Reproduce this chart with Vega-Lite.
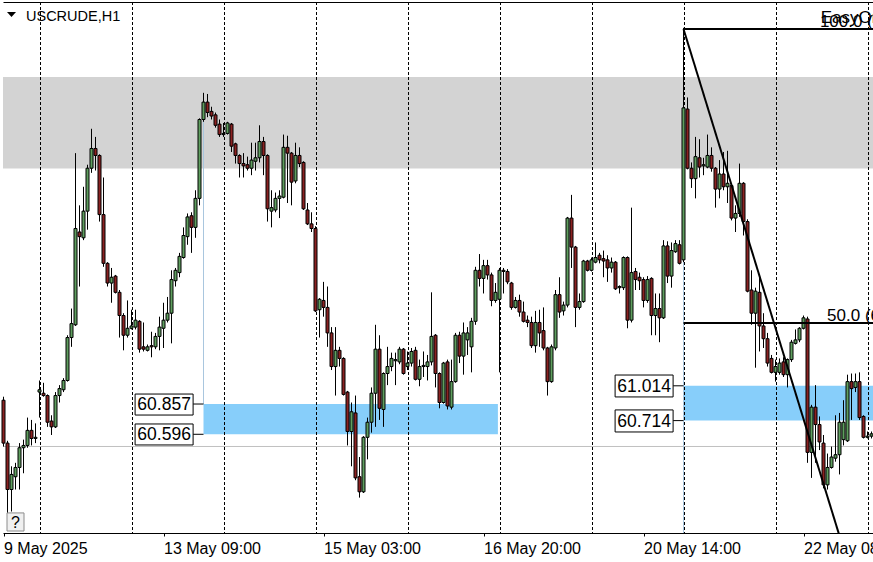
{
"$schema":"https://vega.github.io/schema/vega-lite/v6.json",
"width":870,"height":531,
"autosize":"none",
"padding":{"left":3,"top":2,"right":0,"bottom":29},
"background":"white",
"config":{"view":{"stroke":null},"axis":{"grid":false},"scale":{"continuousPadding":0}},
"datasets":{
"candles":[
{"i":0,"o":60.89,"h":60.92,"l":60.49,"c":60.52},
{"i":1,"o":60.52,"h":60.54,"l":59.90,"c":60.12},
{"i":2,"o":60.12,"h":60.32,"l":59.93,"c":60.25},
{"i":3,"o":60.23,"h":60.35,"l":60.12,"c":60.31},
{"i":4,"o":60.31,"h":60.52,"l":60.12,"c":60.48},
{"i":5,"o":60.48,"h":60.55,"l":60.26,"c":60.50},
{"i":6,"o":60.50,"h":60.74,"l":60.48,"c":60.63},
{"i":7,"o":60.63,"h":60.72,"l":60.50,"c":60.56},
{"i":8,"o":60.56,"h":60.69,"l":60.52,"c":60.57},
{"i":9,"o":60.96,"h":61.06,"l":60.74,"c":60.98},
{"i":10,"o":60.95,"h":61.04,"l":60.92,"c":60.93},
{"i":11,"o":60.93,"h":60.94,"l":60.66,"c":60.70},
{"i":12,"o":60.71,"h":60.76,"l":60.59,"c":60.66},
{"i":13,"o":60.66,"h":60.96,"l":60.65,"c":60.93},
{"i":14,"o":60.93,"h":61.02,"l":60.87,"c":60.99},
{"i":15,"o":60.98,"h":61.08,"l":60.96,"c":61.06},
{"i":16,"o":61.06,"h":61.45,"l":61.05,"c":61.43},
{"i":17,"o":61.43,"h":61.68,"l":61.35,"c":61.55},
{"i":18,"o":61.54,"h":63.02,"l":61.53,"c":62.37},
{"i":19,"o":62.34,"h":62.57,"l":61.87,"c":62.30},
{"i":20,"o":62.29,"h":62.73,"l":62.27,"c":62.52},
{"i":21,"o":62.52,"h":62.92,"l":62.36,"c":62.89},
{"i":22,"o":62.89,"h":63.23,"l":62.85,"c":63.06},
{"i":23,"o":63.06,"h":63.16,"l":62.87,"c":63.00},
{"i":24,"o":63.00,"h":63.01,"l":62.43,"c":62.49},
{"i":25,"o":62.49,"h":62.81,"l":62.04,"c":62.07},
{"i":26,"o":62.07,"h":62.08,"l":61.87,"c":61.90},
{"i":27,"o":61.90,"h":62.03,"l":61.73,"c":61.95},
{"i":28,"o":61.96,"h":61.97,"l":61.81,"c":61.82},
{"i":29,"o":61.82,"h":61.84,"l":61.43,"c":61.62},
{"i":30,"o":61.62,"h":61.64,"l":61.32,"c":61.45},
{"i":31,"o":61.45,"h":61.75,"l":61.43,"c":61.51},
{"i":32,"o":61.51,"h":61.67,"l":61.50,"c":61.53},
{"i":33,"o":61.52,"h":61.67,"l":61.50,"c":61.58},
{"i":34,"o":61.57,"h":61.58,"l":61.30,"c":61.33},
{"i":35,"o":61.35,"h":61.56,"l":61.31,"c":61.33},
{"i":36,"o":61.32,"h":61.37,"l":61.31,"c":61.35},
{"i":37,"o":61.36,"h":61.48,"l":61.26,"c":61.35},
{"i":38,"o":61.35,"h":61.47,"l":61.33,"c":61.44},
{"i":39,"o":61.44,"h":61.61,"l":61.32,"c":61.52},
{"i":40,"o":61.51,"h":61.73,"l":61.34,"c":61.58},
{"i":41,"o":61.58,"h":61.78,"l":61.56,"c":61.64},
{"i":42,"o":61.64,"h":62.01,"l":61.38,"c":61.93},
{"i":43,"o":61.92,"h":62.03,"l":61.87,"c":62.01},
{"i":44,"o":61.99,"h":62.16,"l":61.95,"c":62.13},
{"i":45,"o":62.12,"h":62.38,"l":62.11,"c":62.31},
{"i":46,"o":62.30,"h":62.50,"l":62.23,"c":62.47},
{"i":47,"o":62.48,"h":62.51,"l":62.16,"c":62.38},
{"i":48,"o":62.38,"h":62.70,"l":62.29,"c":62.63},
{"i":49,"o":62.63,"h":63.32,"l":62.57,"c":63.31},
{"i":50,"o":63.31,"h":63.54,"l":63.29,"c":63.46},
{"i":51,"o":63.46,"h":63.53,"l":63.33,"c":63.37},
{"i":52,"o":63.38,"h":63.42,"l":63.31,"c":63.34},
{"i":53,"o":63.35,"h":63.37,"l":63.24,"c":63.26},
{"i":54,"o":63.27,"h":63.31,"l":63.16,"c":63.18},
{"i":55,"o":63.18,"h":63.28,"l":63.16,"c":63.19},
{"i":56,"o":63.19,"h":63.29,"l":63.18,"c":63.28},
{"i":57,"o":63.27,"h":63.28,"l":63.03,"c":63.08},
{"i":58,"o":63.10,"h":63.11,"l":62.93,"c":63.00},
{"i":59,"o":63.00,"h":63.01,"l":62.81,"c":62.93},
{"i":60,"o":62.93,"h":63.02,"l":62.81,"c":62.91},
{"i":61,"o":62.92,"h":62.99,"l":62.87,"c":62.89},
{"i":62,"o":62.89,"h":63.11,"l":62.83,"c":62.96},
{"i":63,"o":62.95,"h":63.11,"l":62.87,"c":62.98},
{"i":64,"o":62.98,"h":63.26,"l":62.94,"c":63.12},
{"i":65,"o":63.12,"h":63.16,"l":62.83,"c":63.00},
{"i":66,"o":63.00,"h":63.01,"l":62.43,"c":62.54},
{"i":67,"o":62.52,"h":62.70,"l":62.38,"c":62.55},
{"i":68,"o":62.53,"h":62.68,"l":62.51,"c":62.63},
{"i":69,"o":62.63,"h":62.70,"l":62.46,"c":62.65},
{"i":70,"o":62.64,"h":63.18,"l":62.63,"c":63.07},
{"i":71,"o":63.07,"h":63.17,"l":62.59,"c":63.02},
{"i":72,"o":63.02,"h":63.03,"l":62.57,"c":62.77},
{"i":73,"o":62.78,"h":63.11,"l":62.76,"c":63.00},
{"i":74,"o":63.00,"h":63.07,"l":62.90,"c":62.93},
{"i":75,"o":62.94,"h":62.95,"l":62.53,"c":62.54},
{"i":76,"o":62.53,"h":62.59,"l":62.40,"c":62.41},
{"i":77,"o":62.41,"h":62.51,"l":62.34,"c":62.37},
{"i":78,"o":62.37,"h":62.39,"l":61.65,"c":61.66},
{"i":79,"o":61.67,"h":61.77,"l":61.43,"c":61.76},
{"i":80,"o":61.75,"h":61.91,"l":61.61,"c":61.69},
{"i":81,"o":61.69,"h":61.87,"l":61.35,"c":61.47},
{"i":82,"o":61.47,"h":61.52,"l":61.15,"c":61.18},
{"i":83,"o":61.18,"h":61.52,"l":60.93,"c":61.32},
{"i":84,"o":61.32,"h":61.35,"l":61.18,"c":61.25},
{"i":85,"o":61.25,"h":61.26,"l":60.93,"c":60.94},
{"i":86,"o":60.96,"h":60.97,"l":60.50,"c":60.62},
{"i":87,"o":60.62,"h":60.87,"l":60.32,"c":60.79},
{"i":88,"o":60.78,"h":60.93,"l":60.20,"c":60.22},
{"i":89,"o":60.23,"h":60.40,"l":60.05,"c":60.10},
{"i":90,"o":60.10,"h":60.58,"l":60.09,"c":60.57},
{"i":91,"o":60.57,"h":60.74,"l":60.38,"c":60.70},
{"i":92,"o":60.70,"h":61.00,"l":60.61,"c":60.95},
{"i":93,"o":60.95,"h":61.54,"l":60.66,"c":61.33},
{"i":94,"o":61.33,"h":61.45,"l":60.72,"c":60.82},
{"i":95,"o":60.81,"h":61.13,"l":60.66,"c":61.12},
{"i":96,"o":61.12,"h":61.35,"l":61.02,"c":61.18},
{"i":97,"o":61.18,"h":61.30,"l":61.14,"c":61.25},
{"i":98,"o":61.23,"h":61.30,"l":61.02,"c":61.24},
{"i":99,"o":61.22,"h":61.35,"l":61.20,"c":61.33},
{"i":100,"o":61.33,"h":61.34,"l":61.11,"c":61.12},
{"i":101,"o":61.18,"h":61.31,"l":61.15,"c":61.21},
{"i":102,"o":61.21,"h":61.34,"l":61.18,"c":61.31},
{"i":103,"o":61.32,"h":61.35,"l":61.06,"c":61.07},
{"i":104,"o":61.07,"h":61.24,"l":61.01,"c":61.18},
{"i":105,"o":61.18,"h":61.31,"l":61.09,"c":61.19},
{"i":106,"o":61.18,"h":61.28,"l":61.06,"c":61.22},
{"i":107,"o":61.22,"h":61.82,"l":61.19,"c":61.44},
{"i":108,"o":61.45,"h":61.46,"l":61.00,"c":61.12},
{"i":109,"o":61.12,"h":61.13,"l":60.82,"c":60.87},
{"i":110,"o":60.87,"h":61.22,"l":60.86,"c":61.21},
{"i":111,"o":61.22,"h":61.24,"l":60.81,"c":60.84},
{"i":112,"o":60.83,"h":61.24,"l":60.81,"c":61.05},
{"i":113,"o":61.05,"h":61.47,"l":61.04,"c":61.45},
{"i":114,"o":61.45,"h":61.48,"l":61.21,"c":61.27},
{"i":115,"o":61.27,"h":61.56,"l":61.11,"c":61.47},
{"i":116,"o":61.41,"h":61.52,"l":61.28,"c":61.47},
{"i":117,"o":61.35,"h":61.60,"l":61.13,"c":61.57},
{"i":118,"o":61.57,"h":62.04,"l":61.54,"c":62.01},
{"i":119,"o":62.01,"h":62.15,"l":61.87,"c":61.94},
{"i":120,"o":61.94,"h":62.10,"l":61.81,"c":62.05},
{"i":121,"o":62.05,"h":62.10,"l":61.93,"c":61.97},
{"i":122,"o":61.97,"h":61.99,"l":61.70,"c":61.75},
{"i":123,"o":61.75,"h":61.90,"l":61.73,"c":61.82},
{"i":124,"o":61.76,"h":62.03,"l":61.13,"c":62.01},
{"i":125,"o":62.01,"h":62.03,"l":61.81,"c":62.00},
{"i":126,"o":62.00,"h":62.02,"l":61.89,"c":61.91},
{"i":127,"o":61.90,"h":61.91,"l":61.67,"c":61.69},
{"i":128,"o":61.69,"h":61.78,"l":61.68,"c":61.75},
{"i":129,"o":61.75,"h":61.80,"l":61.61,"c":61.65},
{"i":130,"o":61.65,"h":61.74,"l":61.56,"c":61.57},
{"i":131,"o":61.58,"h":61.62,"l":61.52,"c":61.56},
{"i":132,"o":61.56,"h":61.61,"l":61.34,"c":61.36},
{"i":133,"o":61.36,"h":61.66,"l":61.30,"c":61.56},
{"i":134,"o":61.56,"h":61.67,"l":61.35,"c":61.47},
{"i":135,"o":61.49,"h":61.69,"l":61.32,"c":61.34},
{"i":136,"o":61.34,"h":61.35,"l":60.93,"c":61.05},
{"i":137,"o":61.05,"h":61.37,"l":61.04,"c":61.35},
{"i":138,"o":61.34,"h":61.84,"l":61.32,"c":61.80},
{"i":139,"o":61.80,"h":61.95,"l":61.60,"c":61.65},
{"i":140,"o":61.66,"h":61.74,"l":61.62,"c":61.71},
{"i":141,"o":61.71,"h":62.47,"l":61.69,"c":62.46},
{"i":142,"o":62.46,"h":62.66,"l":62.03,"c":62.21},
{"i":143,"o":62.21,"h":62.22,"l":61.52,"c":61.69},
{"i":144,"o":61.69,"h":61.81,"l":61.67,"c":61.74},
{"i":145,"o":61.74,"h":62.10,"l":61.73,"c":62.09},
{"i":146,"o":62.09,"h":62.10,"l":62.00,"c":62.01},
{"i":147,"o":62.01,"h":62.12,"l":62.00,"c":62.10},
{"i":148,"o":62.08,"h":62.25,"l":62.07,"c":62.12},
{"i":149,"o":62.14,"h":62.16,"l":62.07,"c":62.10},
{"i":150,"o":62.11,"h":62.18,"l":61.95,"c":62.09},
{"i":151,"o":62.10,"h":62.14,"l":61.91,"c":62.03},
{"i":152,"o":62.03,"h":62.12,"l":61.99,"c":62.08},
{"i":153,"o":62.08,"h":62.09,"l":61.84,"c":61.85},
{"i":154,"o":61.86,"h":61.88,"l":61.81,"c":61.87},
{"i":155,"o":61.86,"h":62.13,"l":61.84,"c":62.12},
{"i":156,"o":62.12,"h":62.13,"l":61.51,"c":61.58},
{"i":157,"o":61.58,"h":62.55,"l":61.56,"c":61.99},
{"i":158,"o":62.00,"h":62.03,"l":61.84,"c":61.93},
{"i":159,"o":61.95,"h":61.99,"l":61.84,"c":61.92},
{"i":160,"o":61.93,"h":61.95,"l":61.69,"c":61.75},
{"i":161,"o":61.75,"h":61.96,"l":61.73,"c":61.93},
{"i":162,"o":61.94,"h":61.95,"l":61.45,"c":61.62},
{"i":163,"o":61.62,"h":61.81,"l":61.45,"c":61.68},
{"i":164,"o":61.68,"h":61.81,"l":61.39,"c":61.60},
{"i":165,"o":61.60,"h":62.27,"l":61.59,"c":62.22},
{"i":166,"o":62.22,"h":62.26,"l":61.90,"c":61.96},
{"i":167,"o":61.96,"h":62.25,"l":61.86,"c":62.18},
{"i":168,"o":62.17,"h":62.27,"l":62.16,"c":62.24},
{"i":169,"o":62.23,"h":62.27,"l":62.06,"c":62.07},
{"i":170,"o":62.10,"h":64.10,"l":62.08,"c":63.41},
{"i":171,"o":63.40,"h":63.50,"l":62.88,"c":62.89},
{"i":172,"o":62.89,"h":62.94,"l":62.72,"c":62.80},
{"i":173,"o":62.80,"h":63.16,"l":62.63,"c":62.99},
{"i":174,"o":62.98,"h":63.14,"l":62.81,"c":62.90},
{"i":175,"o":62.91,"h":62.98,"l":62.83,"c":62.92},
{"i":176,"o":62.90,"h":63.18,"l":62.89,"c":63.00},
{"i":177,"o":63.00,"h":63.07,"l":62.86,"c":62.89},
{"i":178,"o":62.89,"h":62.90,"l":62.55,"c":62.71},
{"i":179,"o":62.71,"h":62.96,"l":62.63,"c":62.84},
{"i":180,"o":62.84,"h":63.03,"l":62.70,"c":62.73},
{"i":181,"o":62.73,"h":63.04,"l":62.59,"c":62.76},
{"i":182,"o":62.74,"h":62.76,"l":62.44,"c":62.46},
{"i":183,"o":62.46,"h":62.57,"l":62.34,"c":62.50},
{"i":184,"o":62.50,"h":62.93,"l":62.47,"c":62.76},
{"i":185,"o":62.76,"h":62.77,"l":62.31,"c":62.43},
{"i":186,"o":62.43,"h":62.45,"l":61.82,"c":61.83},
{"i":187,"o":61.84,"h":62.01,"l":61.54,"c":61.64},
{"i":188,"o":61.64,"h":61.86,"l":61.17,"c":61.83},
{"i":189,"o":61.82,"h":61.95,"l":61.31,"c":61.53},
{"i":190,"o":61.53,"h":61.64,"l":61.34,"c":61.42},
{"i":191,"o":61.42,"h":61.47,"l":61.18,"c":61.21},
{"i":192,"o":61.25,"h":61.28,"l":61.12,"c":61.13},
{"i":193,"o":61.13,"h":61.24,"l":61.05,"c":61.18},
{"i":194,"o":61.13,"h":61.25,"l":61.11,"c":61.21},
{"i":195,"o":61.22,"h":61.26,"l":61.09,"c":61.11},
{"i":196,"o":61.11,"h":61.25,"l":61.00,"c":61.24},
{"i":197,"o":61.24,"h":61.41,"l":61.22,"c":61.39},
{"i":198,"o":61.38,"h":61.50,"l":61.37,"c":61.41},
{"i":199,"o":61.41,"h":61.52,"l":61.39,"c":61.51},
{"i":200,"o":61.51,"h":61.62,"l":61.50,"c":61.60},
{"i":201,"o":61.59,"h":61.61,"l":60.35,"c":60.44},
{"i":202,"o":60.44,"h":60.85,"l":60.22,"c":60.83},
{"i":203,"o":60.83,"h":61.02,"l":60.35,"c":60.68},
{"i":204,"o":60.68,"h":60.75,"l":60.46,"c":60.53},
{"i":205,"o":60.52,"h":60.59,"l":60.13,"c":60.16},
{"i":206,"o":60.16,"h":60.43,"l":60.12,"c":60.31},
{"i":207,"o":60.31,"h":60.49,"l":60.30,"c":60.40},
{"i":208,"o":60.39,"h":60.76,"l":60.36,"c":60.42},
{"i":209,"o":60.42,"h":60.78,"l":60.25,"c":60.70},
{"i":210,"o":60.55,"h":60.89,"l":60.50,"c":60.70},
{"i":211,"o":60.54,"h":61.11,"l":60.53,"c":61.05},
{"i":212,"o":61.05,"h":61.12,"l":60.72,"c":60.99},
{"i":213,"o":61.00,"h":61.12,"l":60.96,"c":61.05},
{"i":214,"o":61.05,"h":61.13,"l":60.72,"c":60.74},
{"i":215,"o":60.75,"h":60.76,"l":60.56,"c":60.57},
{"i":216,"o":60.57,"h":60.62,"l":60.56,"c":60.58},
{"i":217,"o":60.58,"h":60.62,"l":60.56,"c":60.60}
],
"band":[{"y1":63.676,"y2":62.887}],
"zones":[{"x1":50,"x2":123.6,"y1":60.857,"y2":60.596},{"x1":170,"x2":217.375,"y1":61.014,"y2":60.714}],
"bid":[{"p":60.491}],
"seps":[{"i":9.25},{"i":32.25},{"i":55.25},{"i":78.25},{"i":101.25},{"i":124.25},{"i":147.25},{"i":170.25},{"i":193.25},{"i":216.25}],
"vlines":[{"i":50,"y1":63.305,"y2":60.857},{"i":170,"y1":62.10,"y2":59.745}],
"fib":[{"x1":170,"x2":217.375,"p":64.09},{"x1":170,"x2":217.375,"p":61.555}],
"trend":[{"i":170,"p":64.09},{"i":215.25,"p":59.02}],
"boxes":[
{"x1":32.9,"x2":47.4,"y1":60.943,"y2":60.762,"tx":40.15,"p":60.857,"label":"60.857","cx":50},
{"x1":32.9,"x2":47.4,"y1":60.685,"y2":60.504,"tx":40.15,"p":60.596,"label":"60.596","cx":50},
{"x1":152.9,"x2":167.4,"y1":61.107,"y2":60.918,"tx":160.15,"p":61.014,"label":"61.014","cx":170},
{"x1":152.9,"x2":167.4,"y1":60.806,"y2":60.616,"tx":160.15,"p":60.714,"label":"60.714","cx":170}
],
"notes":[
{"i":204.3,"p":64.142,"label":"EasyOrder"},
{"i":204.1,"p":64.107,"label":"100.0 (64.090)"},
{"i":205.9,"p":61.573,"label":"50.0 (61.555)"}
]
},
"layer":[
{"data":{"name":"band"},"mark":{"type":"rect","color":"#d3d3d3"},
 "encoding":{"y":{"field":"y1","type":"quantitative","scale":{"domain":[59.745,64.323],"nice":false,"zero":false},"axis":{"orient":"left","domain":true,"domainColor":"black","ticks":false,"labels":false,"title":null,"grid":false}},"y2":{"field":"y2"}}},
{"data":{"name":"zones"},"mark":{"type":"rect","color":"#87cefa"},
 "encoding":{"x":{"field":"x1","type":"quantitative","scale":{"domain":[-0.125,217.375],"nice":false,"zero":false,"padding":0},"axis":null},"x2":{"field":"x2"},
 "y":{"field":"y1","type":"quantitative","scale":{"domain":[59.745,64.323],"nice":false,"zero":false},"axis":null},"y2":{"field":"y2"}}},
{"data":{"name":"bid"},"mark":{"type":"rule","color":"#c0c0c0","strokeWidth":1},
 "encoding":{"y":{"field":"p","type":"quantitative","scale":{"domain":[59.745,64.323],"nice":false,"zero":false},"axis":null}}},
{"data":{"name":"seps"},"mark":{"type":"rule","color":"black","strokeWidth":1,"strokeDash":[3,2]},
 "encoding":{"x":{"field":"i","type":"quantitative","scale":{"domain":[-0.125,217.375],"nice":false,"zero":false,"padding":0},"axis":{"orient":"top","domain":true,"domainColor":"black","ticks":false,"labels":false,"title":null,"grid":false}}}},
{"data":{"name":"vlines"},"mark":{"type":"rule","color":"#a9c6de","strokeWidth":1},
 "encoding":{"x":{"field":"i","type":"quantitative","scale":{"domain":[-0.125,217.375],"nice":false,"zero":false,"padding":0},"axis":null},
 "y":{"field":"y1","type":"quantitative","scale":{"domain":[59.745,64.323],"nice":false,"zero":false},"axis":null},"y2":{"field":"y2"}}},
{"data":{"name":"candles"},"mark":{"type":"rule","color":"black","strokeWidth":1},
 "encoding":{"x":{"field":"i","type":"quantitative","scale":{"domain":[-0.125,217.375],"nice":false,"zero":false,"padding":0},
   "axis":{"orient":"bottom","values":[0,40,80,120,160,200],"labelExpr":"datum.value==0?'9 May 2025':datum.value==40?'13 May 09:00':datum.value==80?'15 May 03:00':datum.value==120?'16 May 20:00':datum.value==160?'20 May 14:00':'22 May 08:00'","domain":true,"domainColor":"black","ticks":true,"tickSize":3,"tickColor":"black","labelAlign":"left","labelBaseline":"alphabetic","labelPadding":17,"labelFont":"Liberation Sans","labelFontSize":16,"labelColor":"black","labelOverlap":false,"labelBound":false,"labelFlush":false,"title":null,"grid":false}},
 "y":{"field":"l","type":"quantitative","scale":{"domain":[59.745,64.323],"nice":false,"zero":false},"axis":null},"y2":{"field":"h"}}},
{"data":{"name":"candles"},"mark":{"type":"bar","size":3,"stroke":"black","strokeWidth":1},
 "encoding":{"x":{"field":"i","type":"quantitative","scale":{"domain":[-0.125,217.375],"nice":false,"zero":false,"padding":0},"axis":null},
 "y":{"field":"o","type":"quantitative","scale":{"domain":[59.745,64.323],"nice":false,"zero":false},"axis":null},"y2":{"field":"c"},
 "fill":{"condition":{"test":"datum.c >= datum.o","value":"#5f9e5f"},"value":"#8b2222"}}},
{"data":{"name":"fib"},"mark":{"type":"rule","color":"black","strokeWidth":2},
 "encoding":{"x":{"field":"x1","type":"quantitative","scale":{"domain":[-0.125,217.375],"nice":false,"zero":false,"padding":0},"axis":null},"x2":{"field":"x2"},
 "y":{"field":"p","type":"quantitative","scale":{"domain":[59.745,64.323],"nice":false,"zero":false},"axis":null}}},
{"data":{"name":"trend"},"mark":{"type":"line","color":"black","strokeWidth":2,"clip":true},
 "encoding":{"x":{"field":"i","type":"quantitative","scale":{"domain":[-0.125,217.375],"nice":false,"zero":false,"padding":0},"axis":null},
 "y":{"field":"p","type":"quantitative","scale":{"domain":[59.745,64.323],"nice":false,"zero":false},"axis":null}}},
{"data":{"name":"boxes"},"mark":{"type":"rule","color":"black","strokeWidth":1},
 "encoding":{"x":{"field":"x2","type":"quantitative","scale":{"domain":[-0.125,217.375],"nice":false,"zero":false,"padding":0},"axis":null},"x2":{"field":"cx"},
 "y":{"field":"p","type":"quantitative","scale":{"domain":[59.745,64.323],"nice":false,"zero":false},"axis":null}}},
{"data":{"name":"boxes"},"mark":{"type":"rect","fill":"white","stroke":"black","strokeWidth":1},
 "encoding":{"x":{"field":"x1","type":"quantitative","scale":{"domain":[-0.125,217.375],"nice":false,"zero":false,"padding":0},"axis":null},"x2":{"field":"x2"},
 "y":{"field":"y1","type":"quantitative","scale":{"domain":[59.745,64.323],"nice":false,"zero":false},"axis":null},"y2":{"field":"y2"}}},
{"data":{"name":"boxes"},"mark":{"type":"text","font":"Liberation Sans","fontSize":17.5,"color":"black","align":"center","baseline":"middle","dy":1},
 "encoding":{"x":{"field":"tx","type":"quantitative","scale":{"domain":[-0.125,217.375],"nice":false,"zero":false,"padding":0},"axis":null},
 "y":{"field":"p","type":"quantitative","scale":{"domain":[59.745,64.323],"nice":false,"zero":false},"axis":null},"text":{"field":"label"}}},
{"data":{"name":"notes"},"mark":{"type":"text","font":"Liberation Sans","fontSize":17,"color":"black","align":"left","baseline":"alphabetic"},
 "encoding":{"x":{"field":"i","type":"quantitative","scale":{"domain":[-0.125,217.375],"nice":false,"zero":false,"padding":0},"axis":null},
 "y":{"field":"p","type":"quantitative","scale":{"domain":[59.745,64.323],"nice":false,"zero":false},"axis":null},"text":{"field":"label"}}},
{"data":{"values":[{"i":5.625,"p":64.162,"label":"USCRUDE,H1"}]},"mark":{"type":"text","font":"Liberation Sans","fontSize":14.5,"color":"black","align":"left","baseline":"alphabetic"},
 "encoding":{"x":{"field":"i","type":"quantitative","scale":{"domain":[-0.125,217.375],"nice":false,"zero":false,"padding":0},"axis":null},
 "y":{"field":"p","type":"quantitative","scale":{"domain":[59.745,64.323],"nice":false,"zero":false},"axis":null},"text":{"field":"label"}}},
{"data":{"values":[{"i":2,"p":64.215}]},"mark":{"type":"point","shape":"M-1,-0.55L1,-0.55L0,0.55Z","size":81,"filled":true,"color":"black","opacity":1},
 "encoding":{"x":{"field":"i","type":"quantitative","scale":{"domain":[-0.125,217.375],"nice":false,"zero":false,"padding":0},"axis":null},
 "y":{"field":"p","type":"quantitative","scale":{"domain":[59.745,64.323],"nice":false,"zero":false},"axis":null}}},
{"data":{"values":[{"x1":0.875,"x2":5.125,"y1":59.918,"y2":59.762,"tx":3,"p":59.84,"label":"?"}]},"layer":[
 {"mark":{"type":"rect","fill":"#f0f0f0","stroke":"#8c8c8c","strokeWidth":1},
  "encoding":{"x":{"field":"x1","type":"quantitative","scale":{"domain":[-0.125,217.375],"nice":false,"zero":false,"padding":0},"axis":null},"x2":{"field":"x2"},
  "y":{"field":"y1","type":"quantitative","scale":{"domain":[59.745,64.323],"nice":false,"zero":false},"axis":null},"y2":{"field":"y2"}}},
 {"mark":{"type":"text","font":"Liberation Sans","fontSize":16,"color":"black","align":"center","baseline":"middle","dy":1},
  "encoding":{"x":{"field":"tx","type":"quantitative","scale":{"domain":[-0.125,217.375],"nice":false,"zero":false,"padding":0},"axis":null},
  "y":{"field":"p","type":"quantitative","scale":{"domain":[59.745,64.323],"nice":false,"zero":false},"axis":null},"text":{"field":"label"}}}
]}
]
}
